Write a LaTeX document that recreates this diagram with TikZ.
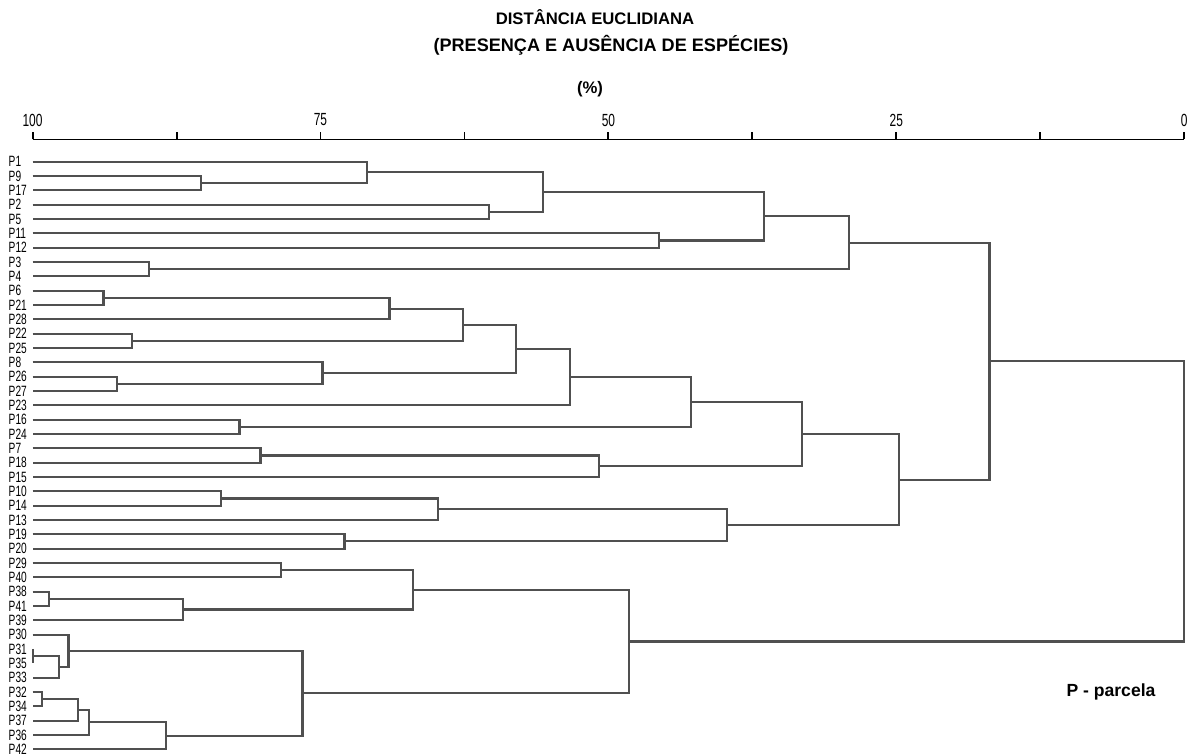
\documentclass[tikz,border=0pt]{standalone}
\usepackage{fontspec}
\setmainfont{Liberation Sans}
\newfontfamily\narrowfont{Liberation Sans}[FakeStretch=0.68]
\usetikzlibrary{calc}
\definecolor{dgline}{RGB}{80,80,80}
\tikzset{
  leaf/.style={anchor=west, inner sep=0pt,
    font=\narrowfont\fontsize{8.5}{9}\selectfont},
  ticklab/.style={inner sep=0pt, font=\narrowfont\fontsize{10}{11}\selectfont},
  heading/.style={inner sep=0pt, font=\bfseries\fontsize{9.5}{11}\selectfont},
  dlink/.style={draw=dgline, line width=1.2pt},
  axisline/.style={draw=black, line width=1.1pt}
}

\begin{document}
\begin{tikzpicture}[x=0.02cm, y=-0.02cm]
  \useasboundingbox (0,0) rectangle (1191,756);

  % Headings
  \node[heading] (title) at (595,17) {DISTÂNCIA EUCLIDIANA};
  \node[heading, font=\bfseries\fontsize{10.3}{12}\selectfont] (subtitle) at (611,45)
    {(PRESENÇA E AUSÊNCIA DE ESPÉCIES)};
  \node[heading] (pct) at (590,89) {(\%)};

  \begin{scope}[shift={(1184.3,0)}, x=-0.2304cm]
    % Distance axis (100 on the left, 0 on the right)
    \draw[axisline] (100,139.5) -- (0,139.5);
    \foreach \tk in {0,12.5,...,100}
      \draw[axisline] (\tk,139.5) -- (\tk,132.5);
    \foreach \tk in {0,25,50,75,100}
      \node[ticklab] (ax\tk) at (\tk,120) {\tk};

    % Leaves (plots)
    \foreach \lab [count=\i from 0] in {P1,P9,P17,P2,P5,P11,P12,P3,P4,P6,P21,P28,
        P22,P25,P8,P26,P27,P23,P16,P24,P7,P18,P15,P10,P14,P13,P19,P20,P29,P40,
        P38,P41,P39,P30,P31,P35,P33,P32,P34,P37,P36,P42} {
      \coordinate (\lab) at (100,{161.7+14.33*\i});
      \node[leaf] (t\lab) at (102.1,{161.7+14.33*\i}) {\lab};
    }

    % Merges: name / first child / second child / level (%)
    \foreach \nm/\ca/\cb/\lev in {
        m1/P9/P17/85.38, m2/P1/m1/70.95, m3/P2/P5/60.40, m4/m2/m3/55.67,
        m5/P11/P12/45.60, m6/m4/m5/36.48, m7/P3/P4/89.87, m8/m6/m7/29.11,
        m9/P6/P21/93.84, m10/m9/P28/69.01, m11/P22/P25/91.35, m12/m10/m11/62.59,
        m13/P26/P27/92.67, m14/P8/m13/74.83, m15/m12/m14/58.06, m16/m15/P23/53.32,
        m17/P16/P24/82.03, m18/m16/m17/42.82, m19/P7/P18/80.21, m20/m19/P15/50.85,
        m21/m18/m20/33.23, m22/P10/P14/83.65, m23/m22/P13/64.83, m24/P19/P20/72.92,
        m25/m23/m24/39.70, m26/m21/m25/24.77, m27/m8/m26/16.91,
        m28/P29/P40/78.41, m29/P38/P41/98.55, m30/m29/P39/86.94, m31/m28/m30/66.95,
        m32/P31/P35/100, m33/m32/P33/97.71, m34/P30/m33/96.88, m35/P32/P34/99.18,
        m36/m35/P37/96.03, m37/m36/P36/95.08, m38/m37/P42/88.42, m39/m34/m38/76.56,
        m40/m31/m39/48.20, m41/m27/m40/0} {
      \path let \p1=(\ca), \p2=(\cb) in
        coordinate (\nm) at (\lev,{0.5*(\y1+\y2)});
      \draw[dlink] let \p1=(\ca), \p2=(\cb), \p3=(\nm) in
        (\p1) -- (\x3,\y1) -- (\x3,\y2) -- (\p2);
    }
  \end{scope}

  % Legend
  \node[font=\bfseries\fontsize{10}{12}\selectfont] (legend) at (1111,692) {P - parcela};
\end{tikzpicture}
\end{document}
